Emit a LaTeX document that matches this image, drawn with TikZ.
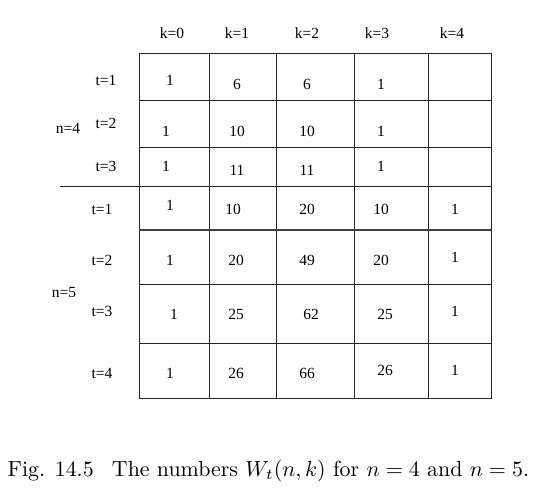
\documentclass[tikz,border=0pt]{standalone}
\usepackage{graphicx}
\usepackage{fontspec}
\newfontfamily\tms{Liberation Serif}
\begin{document}
\begin{tikzpicture}[x=1pt,y=-1pt,
  grid/.style={line width=0.9pt,draw=black!85},
  thick rule/.style={line width=2pt,draw=black!75},
  lbl/.style={inner sep=0pt,font=\tms\fontsize{15.5}{18}\selectfont},
  captext/.style={inner sep=0pt,anchor=base west}]
\useasboundingbox (0,0) rectangle (544,499);
% grid
\draw[grid] (139,53) rectangle (491,398);
\foreach \x in {209,276,354,428} \draw[grid] (\x,53) -- (\x,398);
\foreach \y in {100,147,284,343} \draw[grid] (139,\y) -- (491,\y);
\draw[grid] (60,186) -- (491,186);
\draw[thick rule] (139,230) -- (491,230);
% column heads
\node[lbl] (k0) at (172,33) {k=0};
\node[lbl] (k1) at (237,33) {k=1};
\node[lbl] (k2) at (307,33) {k=2};
\node[lbl] (k3) at (377,33) {k=3};
\node[lbl] (k4) at (452,33) {k=4};
% row heads
\node[lbl] (a1) at (106,80) {t=1};
\node[lbl] (a2) at (106,123) {t=2};
\node[lbl] (a3) at (106,166) {t=3};
\node[lbl] (n4) at (68,128) {n=4};
\node[lbl] (b1) at (102,209) {t=1};
\node[lbl] (b2) at (102,260) {t=2};
\node[lbl] (b3) at (102,311) {t=3};
\node[lbl] (b4) at (102,373) {t=4};
\node[lbl] (n5) at (64,292) {n=5};
% n=4 entries
\node[lbl] (c11) at (170,80) {1};
\node[lbl] (c12) at (237,84) {6};
\node[lbl] (c13) at (307,84) {6};
\node[lbl] (c14) at (381,84) {1};
\node[lbl] (c21) at (166,131) {1};
\node[lbl] (c22) at (237,131) {10};
\node[lbl] (c23) at (307,131) {10};
\node[lbl] (c24) at (381,131) {1};
\node[lbl] (c31) at (166,166) {1};
\node[lbl] (c32) at (237,170) {11};
\node[lbl] (c33) at (307,170) {11};
\node[lbl] (c34) at (381,166) {1};
% n=5 entries
\node[lbl] (d11) at (170,205) {1};
\node[lbl] (d12) at (233,209) {10};
\node[lbl] (d13) at (307,209) {20};
\node[lbl] (d14) at (381,209) {10};
\node[lbl] (d15) at (455,209) {1};
\node[lbl] (d21) at (170,260) {1};
\node[lbl] (d22) at (236,260) {20};
\node[lbl] (d23) at (307,260) {49};
\node[lbl] (d24) at (381,260) {20};
\node[lbl] (d25) at (455,257) {1};
\node[lbl] (d31) at (174,314) {1};
\node[lbl] (d32) at (236,314) {25};
\node[lbl] (d33) at (311,314) {62};
\node[lbl] (d34) at (385,314) {25};
\node[lbl] (d35) at (455,311) {1};
\node[lbl] (d41) at (170,373) {1};
\node[lbl] (d42) at (236,373) {26};
\node[lbl] (d43) at (307,373) {66};
\node[lbl] (d44) at (385,370) {26};
\node[lbl] (d45) at (455,370) {1};
% caption
\node[captext] (caption) at (7.5,476) {\scalebox{2.19}{\fontsize{10}{12}\selectfont Fig. 14.5\hskip 0.83em The numbers $W_t(n,k)$ for $n=4$ and $n=5$.}};
\end{tikzpicture}
\end{document}
